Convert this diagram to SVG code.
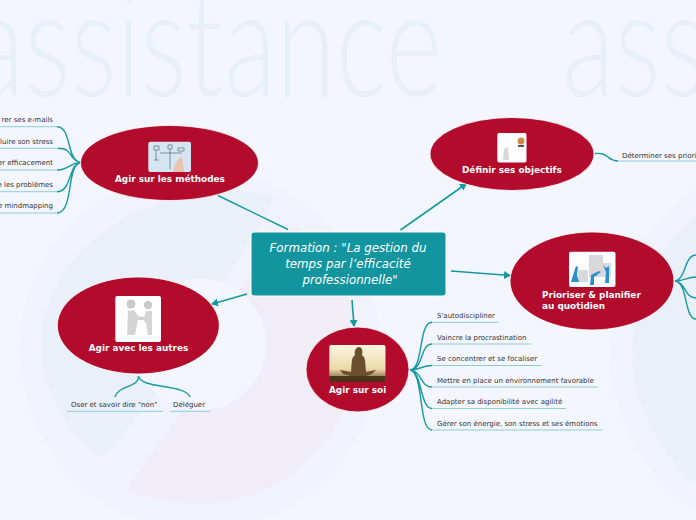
<svg xmlns="http://www.w3.org/2000/svg" width="696" height="520" viewBox="0 0 696 520">
<style>
.wm{font-family:"Lato","Liberation Sans",sans-serif;font-size:150px;font-weight:300;fill:#e7eff7}
.oval{fill:#b30b2b;stroke:#fff;stroke-width:.8}
.t{font-family:"DejaVu Sans",sans-serif;font-size:8.9px;font-weight:700;fill:#fff}
.s{font-family:"DejaVu Sans",sans-serif;font-size:7px;fill:#333}
.c{font-family:"DejaVu Sans",sans-serif;font-size:11.8px;font-style:italic;fill:#fff;text-anchor:middle}
.e{text-anchor:end}
.l{fill:none;stroke:#1499a3;stroke-width:1.4}
.u{fill:none;stroke:#8ccdd6;stroke-width:1}
.a{fill:none;stroke:#1499a3;stroke-width:1.6;marker-end:url(#arr)}
.pic{fill:#fff}
</style>
<defs>
<marker id="arr" markerWidth="8" markerHeight="8" refX="6" refY="4" orient="auto" markerUnits="userSpaceOnUse"><path d="M0,0L7,4L0,8Z" fill="#1499a3"/></marker>
<linearGradient id="sky" x1="0" y1="0" x2="0" y2="1"><stop offset="0" stop-color="#fdf6e2"/><stop offset=".65" stop-color="#ecd9a8"/><stop offset="1" stop-color="#5f4320"/></linearGradient>
</defs>
<g id="background">
<rect width="696" height="520" fill="#f3f6ff"/>
<text class="wm" transform="translate(-28 95.500) scale(.722 1)">assistance</text>
<text class="wm" transform="translate(562 95.500) scale(.722 1)">ass</text>
<circle cx="200" cy="350" r="180" fill="#f0f3fc"/>
<path d="M276,197C170,170 42,240 41,345C41,390 70,440 102,458L170,380L224,283Z" fill="#eaf0f9"/>
<path d="M295,225C340,260 362,310 358,360C350,440 280,505 200,503C170,503 145,497 125,490L190,400L267,345L240,290C262,262 278,240 295,225Z" fill="#f0edf6"/>
<circle cx="200" cy="344.500" r="66" fill="#f3f6ff"/>
<circle cx="805" cy="350" r="195" fill="#f0f3fc"/>
<circle cx="805" cy="350" r="173" fill="#eaf0f9"/>
</g>
<g id="connectors">
<path class="l" d="M288,229.500L218,195.500"/>
<path class="a" d="M400.500,230L466,184"/>
<path class="a" d="M451,271L510,275.500"/>
<path class="a" d="M352,300L354,326"/>
<path class="a" d="M247,294L212,304"/>
<path class="l" d="M81,162.500C66,161 72,127 57,126.700M81,162.500C68,160 74,148.300 58,148.300M81,162.500C70,162 70,170 57,170M81,162.500C68,164 72,191.700 57,191.700M81,162.500C66,164 74,213 57,213"/>
<path class="u" d="M0,126.700H57M0,148.300H58M0,170H57M0,191.700H57M0,213H57"/>
<path class="l" d="M595,153.500C608,152 608,161 618,161"/>
<path class="u" d="M618,161H696"/>
<path class="l" d="M675,281C686,280 684,255 696,255M675,281C686,281 686,277 696,277M675,281C686,282 684,298 696,298M675,281C688,282 684,319 696,319"/>
<path class="l" d="M410,370C424,369 418,322.300 432,322.300M410,370C424,369 420,344 432,344M410,370C420,370 422,365.500 432,365.500M410,370C422,371 420,387 432,387M410,370C422,371 420,408.500 432,408.500M410,370C424,372 418,430 432,430"/>
<path class="u" d="M432,322.300H499M432,344H531M432,365.500H541.500M432,387H598M432,408.500H566M432,430H603"/>
<path class="l" d="M138.500,376C139,388 118,385 115,397M138.500,376C140,389 186,384 190,397"/>
<path class="u" d="M67,411.300H163M170,411.300H210"/>
</g>
<g id="central">
<rect x="251" y="232" width="195" height="64" rx="3" fill="#12959f" stroke="#fff"/>
<text class="c" x="348" y="252">Formation : "La gestion du</text>
<text class="c" x="348" y="268">temps par l’efficacité</text>
<text class="c" x="350" y="284">professionnelle"</text>
</g>
<g id="node-methodes">
<ellipse class="oval" cx="169.500" cy="163" rx="89" ry="37.500"/>
<rect x="148.300" y="141.700" width="42.700" height="30.300" rx="2" fill="#d5e5f3"/>
<path d="M154,146h5v4h-5zM168,145h4v4h-4zM178,148h6v3h-6zM156,150v10M170,149v20M160,153h22M154,160h5" fill="none" stroke="#44566a" stroke-width=".6"/>
<path d="M173,172C174,165 178,160 180,157L182,157L184,172Z" fill="#e9c4ac"/>
<text class="t" x="115" y="181.700">Agir sur les méthodes</text>
</g>
<g id="node-objectifs">
<ellipse class="oval" cx="512" cy="154" rx="82" ry="36.500"/>
<rect class="pic" x="497.300" y="133" width="29.200" height="29.500" rx="2"/>
<circle cx="521" cy="141" r="3.500" fill="#d08a48"/>
<rect x="518" y="145" width="6" height="2" fill="#555"/>
<path d="M503,160L504,149L508,147L509,160Z" fill="#d8d8d8"/>
<text class="t" x="462" y="172.700">Définir ses objectifs</text>
<text class="s" x="622" y="158">Déterminer ses priori</text>
</g>
<g id="node-prioriser">
<ellipse class="oval" cx="592" cy="281" rx="82" ry="49"/>
<rect class="pic" x="569" y="251.700" width="46.500" height="35.300" rx="2"/>
<path d="M589,255h14v8h8v14h-22ZM578,270h10v12h-10Z" fill="#d9d9dc"/>
<path d="M571,282L574,272L576,266L578,267L577,275L579,282ZM590,285L591,275L599,271L601,272L594,277L594,285ZM605,283L606,272L603,265L606,268L609,266L609,283Z" fill="#2b8fce"/>
<text class="t" x="542" y="297.500">Prioriser &amp; planifier</text>
<text class="t" x="542" y="309">au quotidien</text>
</g>
<g id="node-soi">
<ellipse class="oval" cx="357.500" cy="369.500" rx="51.500" ry="42.500"/>
<rect x="329.300" y="345" width="56.200" height="37" rx="2" fill="url(#sky)"/>
<path d="M351,372C352,362 351,358 355,355C354,351 356,347 359,347C362,347 363,351 362,355C366,358 365,362 366,372L376,370L372,374L366,376H351L343,374L340,370Z" fill="#6b5030"/>
<path d="M329.300,376H385.500V380a2,2 0 0 1-2,2H331.300a2,2 0 0 1-2-2Z" fill="#4a3318"/>
<text class="t" x="329" y="392.700">Agir sur soi</text>
</g>
<g id="node-autres">
<ellipse class="oval" cx="138.300" cy="325.500" rx="81" ry="48.500"/>
<rect class="pic" x="115.300" y="296" width="45.700" height="46" rx="2"/>
<circle cx="131" cy="304" r="4.500" fill="#c9c9c9"/>
<circle cx="148" cy="305" r="4.200" fill="#c9c9c9"/>
<path d="M127,335L128,311L134,310L138,316L144,317L146,311L152,311L152,335H148L146,323L143,320L138,320L135,335Z" fill="#d4d4d4"/>
<text class="t" x="88.700" y="351.300">Agir avec les autres</text>
<text class="s" x="71" y="407">Oser et savoir dire "non"</text>
<text class="s" x="173" y="407">Déléguer</text>
</g>
<g id="labels-methodes">
<text class="s e" x="53" y="122">rer ses e-mails</text>
<text class="s e" x="53" y="144">luire son stress</text>
<text class="s e" x="53" y="165">er efficacement</text>
<text class="s e" x="53" y="187">e les problèmes</text>
<text class="s e" x="53" y="208">e mindmapping</text>
</g>
<g id="labels-soi">
<text class="s" x="437" y="318">S'autodiscipliner</text>
<text class="s" x="437" y="340">Vaincre la procrastination</text>
<text class="s" x="437" y="361">Se concentrer et se focaliser</text>
<text class="s" x="437" y="383">Mettre en place un environnement favorable</text>
<text class="s" x="437" y="404">Adapter sa disponibilité avec agilité</text>
<text class="s" x="437" y="426">Gérer son énergie, son stress et ses émotions</text>
</g>
</svg>
